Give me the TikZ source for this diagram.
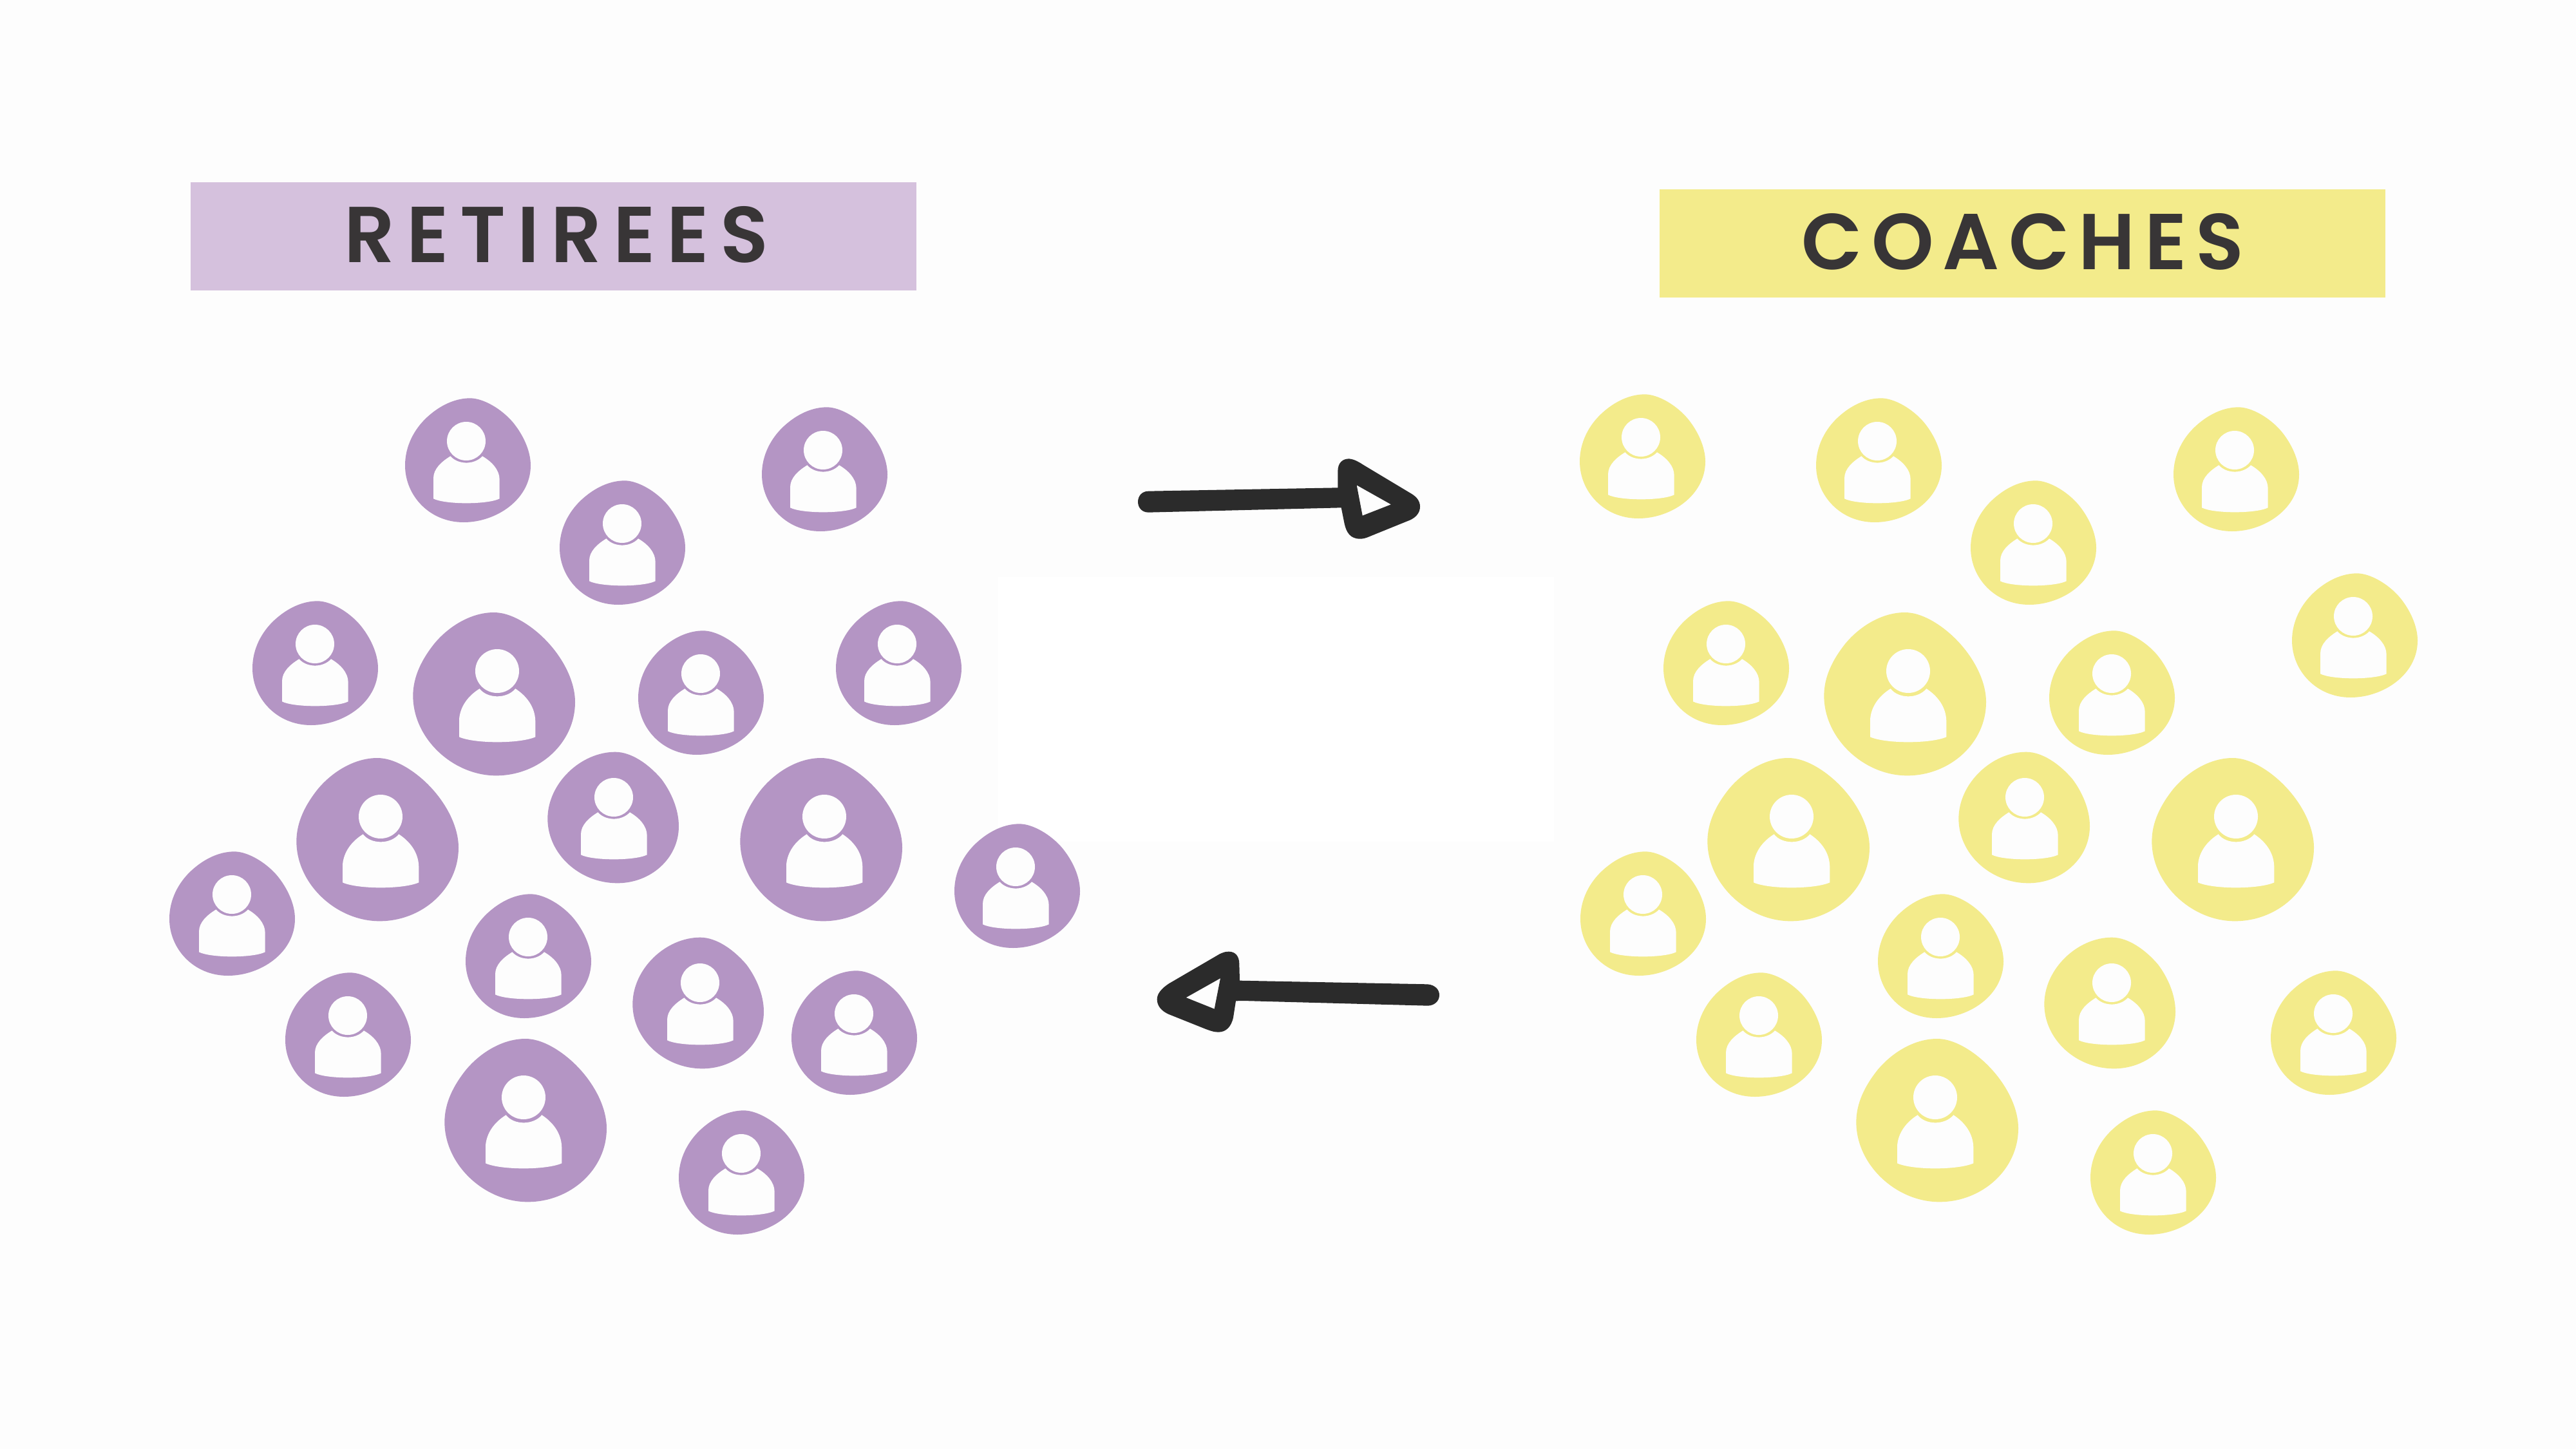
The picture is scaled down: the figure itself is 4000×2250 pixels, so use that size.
\documentclass[tikz,border=0pt]{standalone}
\usepackage{fontspec}
\newfontfamily\titlefontR[LetterSpace=14.5]{Poppins SemiBold}
\newfontfamily\titlefontC[LetterSpace=11.5]{Poppins SemiBold}
\definecolor{pagebg}{HTML}{FDFDFD}
\definecolor{purp}{HTML}{B495C4}
\definecolor{purplight}{HTML}{D5C1DD}
\definecolor{yell}{HTML}{F3EB8B}
\definecolor{inkt}{HTML}{383536}
\definecolor{inka}{HTML}{2B2B2B}
\tikzset{
  cutout/.style={fill=pagebg},
  band/.style={inner sep=0pt,outer sep=0pt,minimum height=168pt,minimum width=1127pt},
  title/.style={inner sep=0pt,outer sep=0pt,anchor=base,text=inkt},
  hand/.style={fill=inka,even odd rule}
}
\newcommand\bodyS{\fill[cutout] (372,317) circle[radius=90];
 \fill[cutout] (219,585) -- (219,490) .. controls (219,445) and (258,412) .. (298,387)
   .. controls (335,428) and (410,428) .. (447,387) .. controls (490,412) and (527,450) .. (527,495)
   -- (527,585) .. controls (470,613) and (275,613) .. cycle;}
\newcommand\fgS[4][0]{\begin{scope}[shift={(#2,#3)},x=.33333pt,y=-.33333pt,shift={(-372,-317)}]
 \fill[#4,shift={(#1,0)}] (390,117) .. controls (450,117) and (535,165) .. (590,230) .. controls (635,285) and (672,360) .. (672,430)
   .. controls (672,590) and (510,695) .. (360,695) .. controls (200,695) and (87,570) .. (87,430)
   .. controls (87,340) and (130,260) .. (190,205) .. controls (250,150) and (320,117) .. cycle;
 \bodyS\end{scope}}
\newcommand\fgM[4][0]{\begin{scope}[shift={(#2,#3)},x=.33333pt,y=-.33333pt,shift={(-368,-265)}]
 \fill[#4,shift={(#1,0)}] (375,54) .. controls (450,54) and (530,110) .. (590,180) .. controls (635,240) and (671,320) .. (671,400)
   .. controls (671,550) and (540,665) .. (385,665) .. controls (210,665) and (60,530) .. (60,365)
   .. controls (60,200) and (215,54) .. cycle;
 \begin{scope}[shift={(-4,-52)}]\bodyS\end{scope}\end{scope}}
\newcommand\fgL[4][0]{\begin{scope}[shift={(#2,#3)},x=.33333pt,y=-.33333pt,shift={(-455,-365)}]
 \fill[#4,shift={(#1,0)}] (440,92) .. controls (530,92) and (630,165) .. (690,230) .. controls (760,305) and (818,410) .. (818,510)
   .. controls (818,700) and (650,852) .. (450,852) .. controls (250,852) and (63,680) .. (63,480)
   .. controls (63,390) and (105,310) .. (160,240) .. controls (225,160) and (330,92) .. cycle;
 \fill[cutout] (455,365) circle[radius=102];
 \fill[cutout] (278,672) -- (278,590) .. controls (282,530) and (320,480) .. (373,447)
   .. controls (410,495) and (500,495) .. (540,447) .. controls (590,480) and (632,530) .. (633,600)
   -- (633,672) .. controls (560,704) and (350,704) .. cycle;
 \end{scope}}
\begin{document}
\begin{tikzpicture}[x=1pt,y=-1pt]
\useasboundingbox (0,0) rectangle (4000,2250);
\fill[pagebg] (0,0) rectangle (4000,2250);
\fill[white] (1550,896) rectangle (2413,1307);
% title bands
\node[band,fill=purplight] (bandR) at (859.5,367) {};
\node[band,fill=yell] (bandC) at (3140,378) {};
\node[title,font=\titlefontR\fontsize{123}{123}\selectfont] (titleR) at (864,407) {RETIREES};
\node[title,font=\titlefontC\fontsize{123}{123}\selectfont] (titleC) at (3141,418) {COACHES};
% retirees
\fgS{724}{685}{purp}\fgS[-6]{966}{813}{purp}\fgS{1278}{699}{purp}\fgS[-6]{489}{1000}{purp}
\fgL{772}{1042}{purp}\fgS[-6]{1088}{1046}{purp}\fgS{1393}{1000}{purp}\fgL{591}{1268}{purp}
\fgM{953}{1238}{purp}\fgL{1280}{1268}{purp}\fgS{1577}{1346}{purp}\fgS[-6]{360}{1389}{purp}
\fgS[-6]{820}{1455}{purp}\fgM[-6]{1087}{1526}{purp}\fgS[-6]{1326}{1574}{purp}\fgS[-6]{540}{1577}{purp}
\fgL[24]{813}{1704}{purp}\fgS[-6]{1151}{1791}{purp}
% coaches
\fgS{2548}{679}{yell}\fgS{2915}{685}{yell}\fgS[-6]{3157}{813}{yell}\fgS{3470}{699}{yell}
\fgS{3654}{957}{yell}\fgS[-6]{2680}{1000}{yell}\fgL{2963}{1042}{yell}\fgS[-6]{3279}{1046}{yell}
\fgL{2782}{1268}{yell}\fgM{3144}{1238}{yell}\fgL{3472}{1268}{yell}\fgS[-6]{2551}{1389}{yell}
\fgS[-6]{3013}{1455}{yell}\fgM[-6]{3279}{1526}{yell}\fgS[-6]{3623}{1574}{yell}\fgS[-6]{2731}{1577}{yell}
\fgL[24]{3005}{1704}{yell}\fgS[-6]{3343}{1791}{yell}
% arrows
\begin{scope}[shift={(1720,680)},x=.33333pt,y=-.33333pt]
 \fill[hand] (190,248) -- (1072,232) -- (1072,155) .. controls (1072,115) and (1095,97) .. (1125,97)
   .. controls (1150,100) and (1170,112) .. (1190,125) -- (1415,260) .. controls (1440,275) and (1455,295) .. (1455,320)
   .. controls (1455,350) and (1435,370) .. (1410,382) -- (1230,455) .. controls (1200,468) and (1190,470) .. (1175,470)
   .. controls (1130,470) and (1112,440) .. (1103,400) -- (1088,325) -- (190,347)
   .. controls (160,347) and (141,325) .. (141,298) .. controls (141,270) and (160,248) .. cycle
   (1160,220) -- (1320,310) -- (1187,362) -- cycle;
\end{scope}
\begin{scope}[shift={(1760,1440)},x=.33333pt,y=-.33333pt]
 \fill[hand] (495,248) -- (1370,265) .. controls (1405,268) and (1425,290) .. (1425,315)
   .. controls (1425,345) and (1400,365) .. (1370,365) -- (510,342) -- (477,343) -- (465,420)
   .. controls (455,465) and (430,488) .. (395,488) .. controls (375,488) and (360,482) .. (340,475)
   -- (165,405) .. controls (130,390) and (110,365) .. (110,335) .. controls (110,310) and (130,285) .. (165,262)
   -- (400,125) .. controls (420,115) and (430,113) .. (445,113) .. controls (475,113) and (493,135) .. (493,170) -- cycle
   (405,237) -- (245,327) -- (377,380) -- cycle;
\end{scope}
\end{tikzpicture}
\end{document}
